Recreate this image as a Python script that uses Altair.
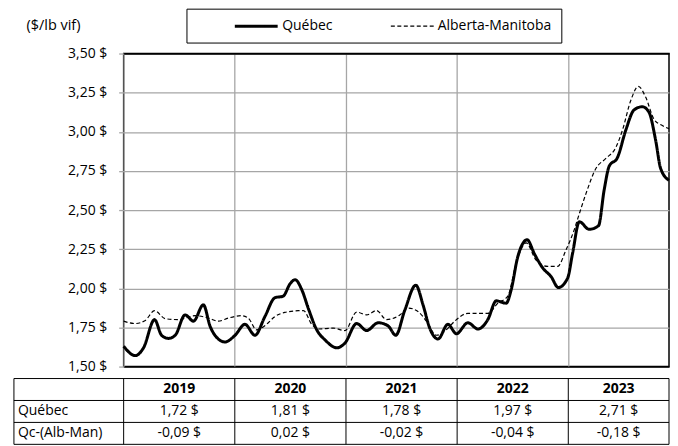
import altair as alt
import pandas as pd

# ---- data (fractional year, $/lb live weight) ----
qc_t = [2019.000, 2019.105, 2019.179, 2019.278, 2019.341, 2019.404, 2019.464, 2019.553, 2019.628, 2019.717,
        2019.778, 2019.852, 2019.912, 2020.002, 2020.091, 2020.181, 2020.271, 2020.361, 2020.435, 2020.498,
        2020.543, 2020.603, 2020.662, 2020.737, 2020.812, 2020.917, 2020.991, 2021.096, 2021.186, 2021.290,
        2021.379, 2021.448, 2021.529, 2021.628, 2021.693, 2021.753, 2021.828, 2021.917, 2021.993, 2022.097,
        2022.187, 2022.276, 2022.352, 2022.441, 2022.486, 2022.545, 2022.630, 2022.695, 2022.770, 2022.845,
        2022.910, 2022.994, 2023.039, 2023.099, 2023.188, 2023.272, 2023.323, 2023.368, 2023.442, 2023.517,
        2023.592, 2023.666, 2023.726, 2023.786, 2023.831, 2023.906]
qc_v = [1.63, 1.57, 1.62, 1.80, 1.70, 1.68, 1.70, 1.83, 1.79, 1.895,
        1.757, 1.676, 1.657, 1.70, 1.77, 1.70, 1.82, 1.94, 1.95, 2.03,
        2.055, 1.99, 1.87, 1.735, 1.67, 1.62, 1.65, 1.775, 1.73, 1.78,
        1.76, 1.70, 1.86, 2.02, 1.895, 1.746, 1.676, 1.77, 1.71, 1.78,
        1.74, 1.80, 1.92, 1.905, 1.99, 2.20, 2.31, 2.22, 2.13, 2.075,
        2.005, 2.065, 2.225, 2.425, 2.377, 2.40, 2.63, 2.78, 2.835, 3.01,
        3.14, 3.16, 3.125, 2.945, 2.765, 2.69]

ab_t = [2019.000, 2019.105, 2019.195, 2019.278, 2019.374, 2019.493, 2019.643, 2019.762, 2019.852, 2019.942,
        2020.061, 2020.121, 2020.196, 2020.285, 2020.361, 2020.450, 2020.570, 2020.617, 2020.692, 2020.752,
        2020.886, 2020.991, 2021.096, 2021.186, 2021.275, 2021.365, 2021.484, 2021.559, 2021.648, 2021.724,
        2021.814, 2021.903, 2021.978, 2022.097, 2022.276, 2022.366, 2022.456, 2022.531, 2022.621, 2022.710,
        2022.814, 2022.904, 2022.979, 2023.054, 2023.083, 2023.159, 2023.248, 2023.338, 2023.428, 2023.487,
        2023.562, 2023.630, 2023.697, 2023.771, 2023.846, 2023.906]
ab_v = [1.79, 1.775, 1.795, 1.857, 1.806, 1.80, 1.825, 1.81, 1.79, 1.81,
        1.825, 1.81, 1.735, 1.77, 1.82, 1.846, 1.857, 1.858, 1.77, 1.74,
        1.746, 1.73, 1.848, 1.83, 1.858, 1.80, 1.83, 1.874, 1.852, 1.79,
        1.70, 1.735, 1.79, 1.84, 1.84, 1.905, 1.95, 2.16, 2.29, 2.18,
        2.14, 2.14, 2.245, 2.375, 2.44, 2.605, 2.765, 2.83, 2.90, 3.01,
        3.20, 3.29, 3.22, 3.08, 3.04, 3.02]

series = ["Québec", "Alberta-Manitoba"]
y_ticks = [1.50, 1.75, 2.00, 2.25, 2.50, 2.75, 3.00, 3.25, 3.50]
years = ["2019", "2020", "2021", "2022", "2023"]
year_starts = [2019, 2020, 2021, 2022, 2023]
qc_avg = [1.72, 1.81, 1.78, 1.97, 2.71]
qc_diff = [-0.09, 0.02, -0.02, -0.04, -0.18]
row_labels = ["Québec", "Qc-(Alb-Man)"]

T_START = 2019.0
T_END = 2023.906
LABEL_START = 2018.013

FONT = "Open Sans"
GRID = "#a6a6a6"

# ---- line chart ----
df = pd.concat([
    pd.DataFrame({"t": qc_t, "v": qc_v, "series": series[0]}),
    pd.DataFrame({"t": ab_t, "v": ab_v, "series": series[1]}),
])

xscale = alt.Scale(domain=[T_START, T_END], nice=False, zero=False)

# legend symbol: a 43px horizontal stroke drawn from the left of a 14px slot
legend_kw = dict(
    title=" ", titleOrient="left", titlePadding=38, titleFontSize=14,
    orient="none", legendX=63, legendY=-45, direction="horizontal",
    symbolType="M-1,0H5.14", symbolSize=196, symbolStrokeColor="black",
    labelFontSize=14, labelColor="black", labelFont=FONT, labelOffset=32,
    columnPadding=55, padding=9, strokeColor="black",
    labelExpr="datum.label == 'Alberta-Manitoba' ? datum.label + '" + "\u00a0" * 9 + "' : datum.label",
)

fmt = "replace(format(datum.value, '.2f'), '.', ',') + ' $'"

top = alt.Chart(df).mark_line(interpolate="monotone", color="black").encode(
    x=alt.X("t:Q", scale=xscale,
            axis=alt.Axis(values=year_starts, labels=False, ticks=False, domain=False,
                          grid=True, gridColor=GRID, gridWidth=1.3, title=None)),
    y=alt.Y("v:Q", scale=alt.Scale(domain=[1.5, 3.5], nice=False, zero=False),
            axis=alt.Axis(values=y_ticks, labelExpr=fmt, labelFontSize=14, labelColor="black",
                          labelFont=FONT, labelPadding=12, tickSize=5, tickColor=GRID, tickWidth=1.3,
                          domain=False, grid=True, gridWidth=1.3,
                          gridColor=alt.condition("datum.value <= 1.5 || datum.value >= 3.5",
                                                  alt.value("black"), alt.value(GRID)),
                          title="($/lb vif)", titleAngle=0, titleAlign="left", titleBaseline="middle",
                          titleX=-98, titleY=-28, titleFontSize=14.5, titleFontWeight="normal",
                          titleColor="black", titleFont=FONT)),
    strokeDash=alt.StrokeDash("series:N", scale=alt.Scale(domain=series, range=[[1, 0], [4, 2.5]]),
                              legend=alt.Legend(**legend_kw)),
    strokeWidth=alt.StrokeWidth("series:N", scale=alt.Scale(domain=series, range=[3, 1.2]),
                                legend=alt.Legend(**legend_kw)),
).properties(width=547, height=314,
             view=alt.ViewBackground(stroke="black", strokeWidth=1.5))

# ---- table below ----
bounds = year_starts + [T_END]
centers = [(bounds[i] + bounds[i + 1]) / 2 for i in range(len(years))]

def money(v):
    return f"{v:.2f}".replace(".", ",") + " $"

hdr = pd.DataFrame({"x": centers, "row": 0.5, "text": years})
cells = pd.DataFrame({
    "x": centers * 2,
    "row": [1.5] * len(years) + [2.5] * len(years),
    "text": [money(v) for v in qc_avg] + [money(v) for v in qc_diff],
})
labels = pd.DataFrame({"x": LABEL_START, "row": [1.5, 2.5], "text": row_labels})
hlines = pd.DataFrame({"x": LABEL_START, "x2": T_END, "row": [0, 1, 2, 3]})
vlines = pd.DataFrame({"x": [LABEL_START] + bounds, "r0": 0, "r1": 3})

tx = alt.X("x:Q", scale=xscale, axis=None)
ty_scale = alt.Scale(domain=[0, 3], reverse=True, nice=False, zero=False)

t_h = alt.Chart(hlines).mark_rule(color="black", strokeWidth=1).encode(
    x=tx, x2="x2:Q", y=alt.Y("row:Q", scale=ty_scale, axis=None))
t_v = alt.Chart(vlines).mark_rule(color="black", strokeWidth=1).encode(
    x=tx, y=alt.Y("r0:Q", scale=ty_scale, axis=None), y2="r1:Q")
t_hdr = alt.Chart(hdr).mark_text(font=FONT, fontSize=14, fontWeight="bold", color="black").encode(
    x=tx, y=alt.Y("row:Q", scale=ty_scale, axis=None), text="text:N")
t_cells = alt.Chart(cells).mark_text(font=FONT, fontSize=14, color="black").encode(
    x=tx, y=alt.Y("row:Q", scale=ty_scale, axis=None), text="text:N")
t_lab = alt.Chart(labels).mark_text(font=FONT, fontSize=14, color="black", align="left", dx=4).encode(
    x=tx, y=alt.Y("row:Q", scale=ty_scale, axis=None), text="text:N")

table = alt.layer(t_h, t_v, t_hdr, t_cells, t_lab).properties(
    width=547, height=66, view=alt.ViewBackground(stroke="transparent"))

chart = alt.vconcat(top, table, spacing=3).properties(
    padding={"left": 4, "top": -1, "right": -6, "bottom": 0}
).configure(font=FONT)

chart.save("out.html", embed_options={"renderer": "svg", "actions": False})
